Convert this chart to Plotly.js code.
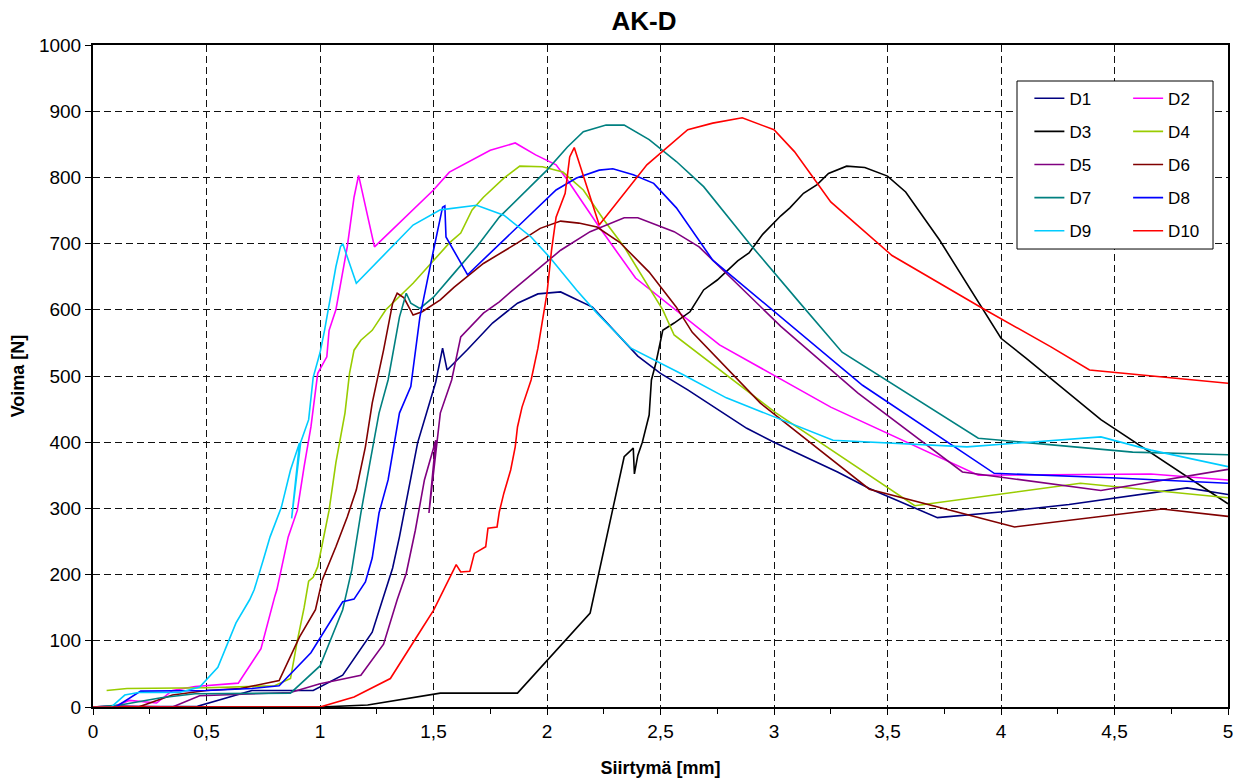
<!DOCTYPE html>
<html>
<head>
<meta charset="utf-8">
<script src="https://cdn.plot.ly/plotly-3.0.1.min.js"></script>
<style>html,body{margin:0;padding:0;background:#fff;}#chart{width:1242px;height:781px;}</style>
</head>
<body>
<div id="chart"></div>
<script>
// Series names and colours
const seriesNames = ['D1','D2','D3','D4','D5','D6','D7','D8','D9','D10'];
const seriesColors = ['#000080','#FF00FF','#000000','#99CC00','#800080','#800000','#008080','#0000FF','#00CCFF','#FF0000'];

// Displacement [mm] / force [N]
const D1x = [0,0.2,0.46,0.70,0.97,1.10,1.23,1.32,1.35,1.43,1.51,1.54,1.56,1.65,1.76,1.87,1.96,2.06,2.20,2.40,2.50,2.62,2.88,3.00,3.28,3.42,3.72,4.01,4.30,4.82,5.0];
const D1y = [0,0,1,25,25,48,113,210,257,399,491,542,509,540,580,610,624,627,604,530,504,479,421,400,355,330,286,295,306,331,321];

const D2x = [0,0.10,0.16,0.28,0.35,0.45,0.64,0.74,0.80,0.81,0.86,0.90,0.93,0.96,0.99,1.03,1.04,1.07,1.12,1.15,1.17,1.24,1.50,1.57,1.75,1.86,1.95,2.04,2.09,2.23,2.39,2.53,2.76,3.25,3.90,4.66,5.0];
const D2y = [0,2,10,6,25,31,36,88,166,177,257,297,363,423,504,529,569,600,695,770,803,695,781,808,841,852,834,819,796,725,648,610,547,453,350,352,343];

const D3x = [0,1.0,1.21,1.53,1.87,2.19,2.34,2.38,2.385,2.40,2.42,2.45,2.46,2.48,2.51,2.56,2.63,2.69,2.75,2.84,2.89,2.95,3.03,3.07,3.13,3.19,3.24,3.32,3.40,3.50,3.58,3.73,4.0,4.11,4.44,5.0];
const D3y = [0,0,3,21,21,142,378,391,352,380,400,441,494,520,569,580,597,630,645,674,686,714,742,754,776,789,806,817,815,802,778,705,557,527,434,307];

const D4x = [0.06,0.15,0.5,0.8,0.87,0.90,0.93,0.95,0.97,0.99,1.04,1.07,1.11,1.13,1.15,1.18,1.23,1.29,1.41,1.50,1.57,1.62,1.67,1.72,1.81,1.88,1.98,2.07,2.16,2.25,2.34,2.51,2.56,3.01,3.33,3.62,4.35,5.0];
const D4y = [25,28,29,32,43,100,150,190,196,212,297,369,444,504,539,554,569,600,640,675,701,716,751,770,799,817,816,808,781,736,695,600,562,444,370,304,338,316];

const D5x = [0,0.1,0.35,0.47,0.87,1.0,1.07,1.18,1.28,1.34,1.38,1.42,1.46,1.51,1.48,1.53,1.58,1.62,1.72,1.79,1.84,1.94,2.06,2.19,2.34,2.40,2.56,2.67,2.79,3.03,3.37,3.83,4.44,5.0];
const D5y = [0,2,0,17,22,35,40,48,95,162,202,267,343,403,293,444,494,559,595,612,627,655,690,718,739,739,718,695,655,575,474,355,327,359];

const D6x = [0,0.2,0.25,0.35,0.5,0.65,0.82,0.91,0.98,1.01,1.07,1.12,1.16,1.20,1.23,1.26,1.28,1.32,1.34,1.37,1.41,1.45,1.53,1.59,1.72,1.87,1.97,2.06,2.14,2.22,2.32,2.45,2.57,2.64,2.94,3.42,4.06,4.71,5.0];
const D6y = [0,0,6,18,25,28,40,106,147,192,242,287,328,393,459,504,539,610,625,618,592,597,615,634,670,701,723,734,731,725,702,657,604,566,459,329,272,299,288];

const D7x = [0,0.12,0.2,0.3,0.45,0.87,1.0,1.10,1.14,1.18,1.22,1.26,1.30,1.35,1.38,1.40,1.44,1.50,1.59,1.69,1.79,1.88,2.00,2.09,2.16,2.26,2.34,2.45,2.57,2.69,2.89,3.11,3.30,3.90,4.58,5.0];
const D7y = [0,3,8,14,20,21,62,147,207,293,369,444,494,589,625,610,602,619,655,695,740,770,811,846,869,879,879,857,824,786,701,612,536,406,385,381];

const D8x = [0,0.1,0.21,0.5,0.7,0.82,0.96,1.10,1.15,1.20,1.23,1.26,1.30,1.33,1.35,1.40,1.44,1.50,1.54,1.55,1.555,1.65,1.84,2.04,2.13,2.23,2.29,2.38,2.47,2.57,2.73,3.01,3.39,3.97,4.51,5.0];
const D8y = [0,0,24,25,28,32,82,159,163,189,225,293,343,403,444,484,589,690,755,757,710,653,716,781,799,811,813,804,791,754,675,595,486,353,346,338];

const D9x = [0,0.08,0.14,0.2,0.38,0.47,0.55,0.63,0.69,0.71,0.75,0.78,0.83,0.87,0.91,0.875,0.915,0.95,0.97,1.0,1.02,1.04,1.07,1.09,1.10,1.16,1.29,1.41,1.53,1.69,1.81,1.93,2.01,2.13,2.22,2.37,2.60,2.79,3.26,3.85,4.44,4.66,5.0];
const D9y = [0,0,18,22,22,30,60,127,162,177,222,257,302,358,399,285,400,434,498,535,569,610,665,695,700,640,686,728,751,758,743,710,680,630,595,542,502,467,403,393,408,388,363];

const D10x = [0,1.0,1.15,1.31,1.45,1.50,1.60,1.62,1.66,1.68,1.73,1.74,1.78,1.79,1.81,1.84,1.86,1.87,1.89,1.93,1.96,2.00,2.02,2.04,2.08,2.10,2.12,2.23,2.44,2.62,2.73,2.86,3.00,3.09,3.25,3.52,3.92,4.22,4.39,5.0];
const D10y = [0,0,15,43,119,146,215,204,205,232,242,270,272,295,323,358,393,423,453,494,542,625,690,740,776,831,845,728,819,872,882,890,872,839,763,682,602,544,509,489];

const xData = [D1x,D2x,D3x,D4x,D5x,D6x,D7x,D8x,D9x,D10x];
const yData = [D1y,D2y,D3y,D4y,D5y,D6y,D7y,D8y,D9y,D10y];

const FONT = 'Liberation Sans, Arial, sans-serif';

const traces = seriesNames.map((n, i) => ({
  type: 'scatter',
  mode: 'lines',
  name: n,
  x: xData[i],
  y: yData[i],
  line: {color: seriesColors[i], width: 1.6},
  legend: (i % 2 === 0) ? 'legend' : 'legend2',
  legendgroup: n,
  hoverinfo: 'x+y+name'
}));

const axisCommon = {
  showline: true, linecolor: '#000', linewidth: 2, mirror: true,
  showgrid: true, gridcolor: '#111', gridwidth: 1, griddash: '7px,4px',
  zeroline: false,
  ticks: 'outside', ticklen: 6, tickwidth: 1, tickcolor: '#000',
  tickfont: {family: FONT, size: 19, color: '#000'},
  automargin: false
};

const legendCommon = {
  orientation: 'v',
  bgcolor: 'rgba(0,0,0,0)',
  borderwidth: 0,
  font: {family: FONT, size: 17, color: '#000'},
  tracegroupgap: 8,
  itemwidth: 30,
  yanchor: 'top',
  xanchor: 'left'
};

const layout = {
  width: 1242, height: 781,
  paper_bgcolor: '#fff', plot_bgcolor: '#fff',
  margin: {l: 93, r: 14, t: 45, b: 74},
  separators: ',.',
  showlegend: true,
  title: {
    text: 'AK-D',
    font: {family: FONT, size: 26, color: '#000', weight: 700},
    x: 0.5185, xref: 'container', xanchor: 'center',
    y: 0.973, yref: 'container', yanchor: 'middle'
  },
  xaxis: Object.assign({}, axisCommon, {
    range: [0, 5], tick0: 0, dtick: 0.5,
    minor: {dtick: 0.25, ticks: 'outside', ticklen: 5, tickcolor: '#000', showgrid: false},
    title: {text: 'Siirtymä [mm]', font: {family: FONT, size: 18, color: '#000', weight: 700}, standoff: 21}
  }),
  yaxis: Object.assign({}, axisCommon, {
    range: [0, 1000], tick0: 0, dtick: 100,
    title: {text: 'Voima [N]', font: {family: FONT, size: 18, color: '#000', weight: 700}, standoff: 10}
  }),
  legend: Object.assign({}, legendCommon, {x: 0.825, y: 0.946}),
  legend2: Object.assign({}, legendCommon, {x: 0.912, y: 0.946}),
  shapes: [{
    type: 'rect', xref: 'paper', yref: 'paper',
    x0: 0.8141, x1: 0.9868, y0: 0.6918, y1: 0.9456,
    fillcolor: '#fff', line: {color: '#000', width: 1}, layer: 'above'
  }]
};

Plotly.newPlot('chart', traces, layout, {displayModeBar: false, staticPlot: true});
</script>
</body>
</html>
